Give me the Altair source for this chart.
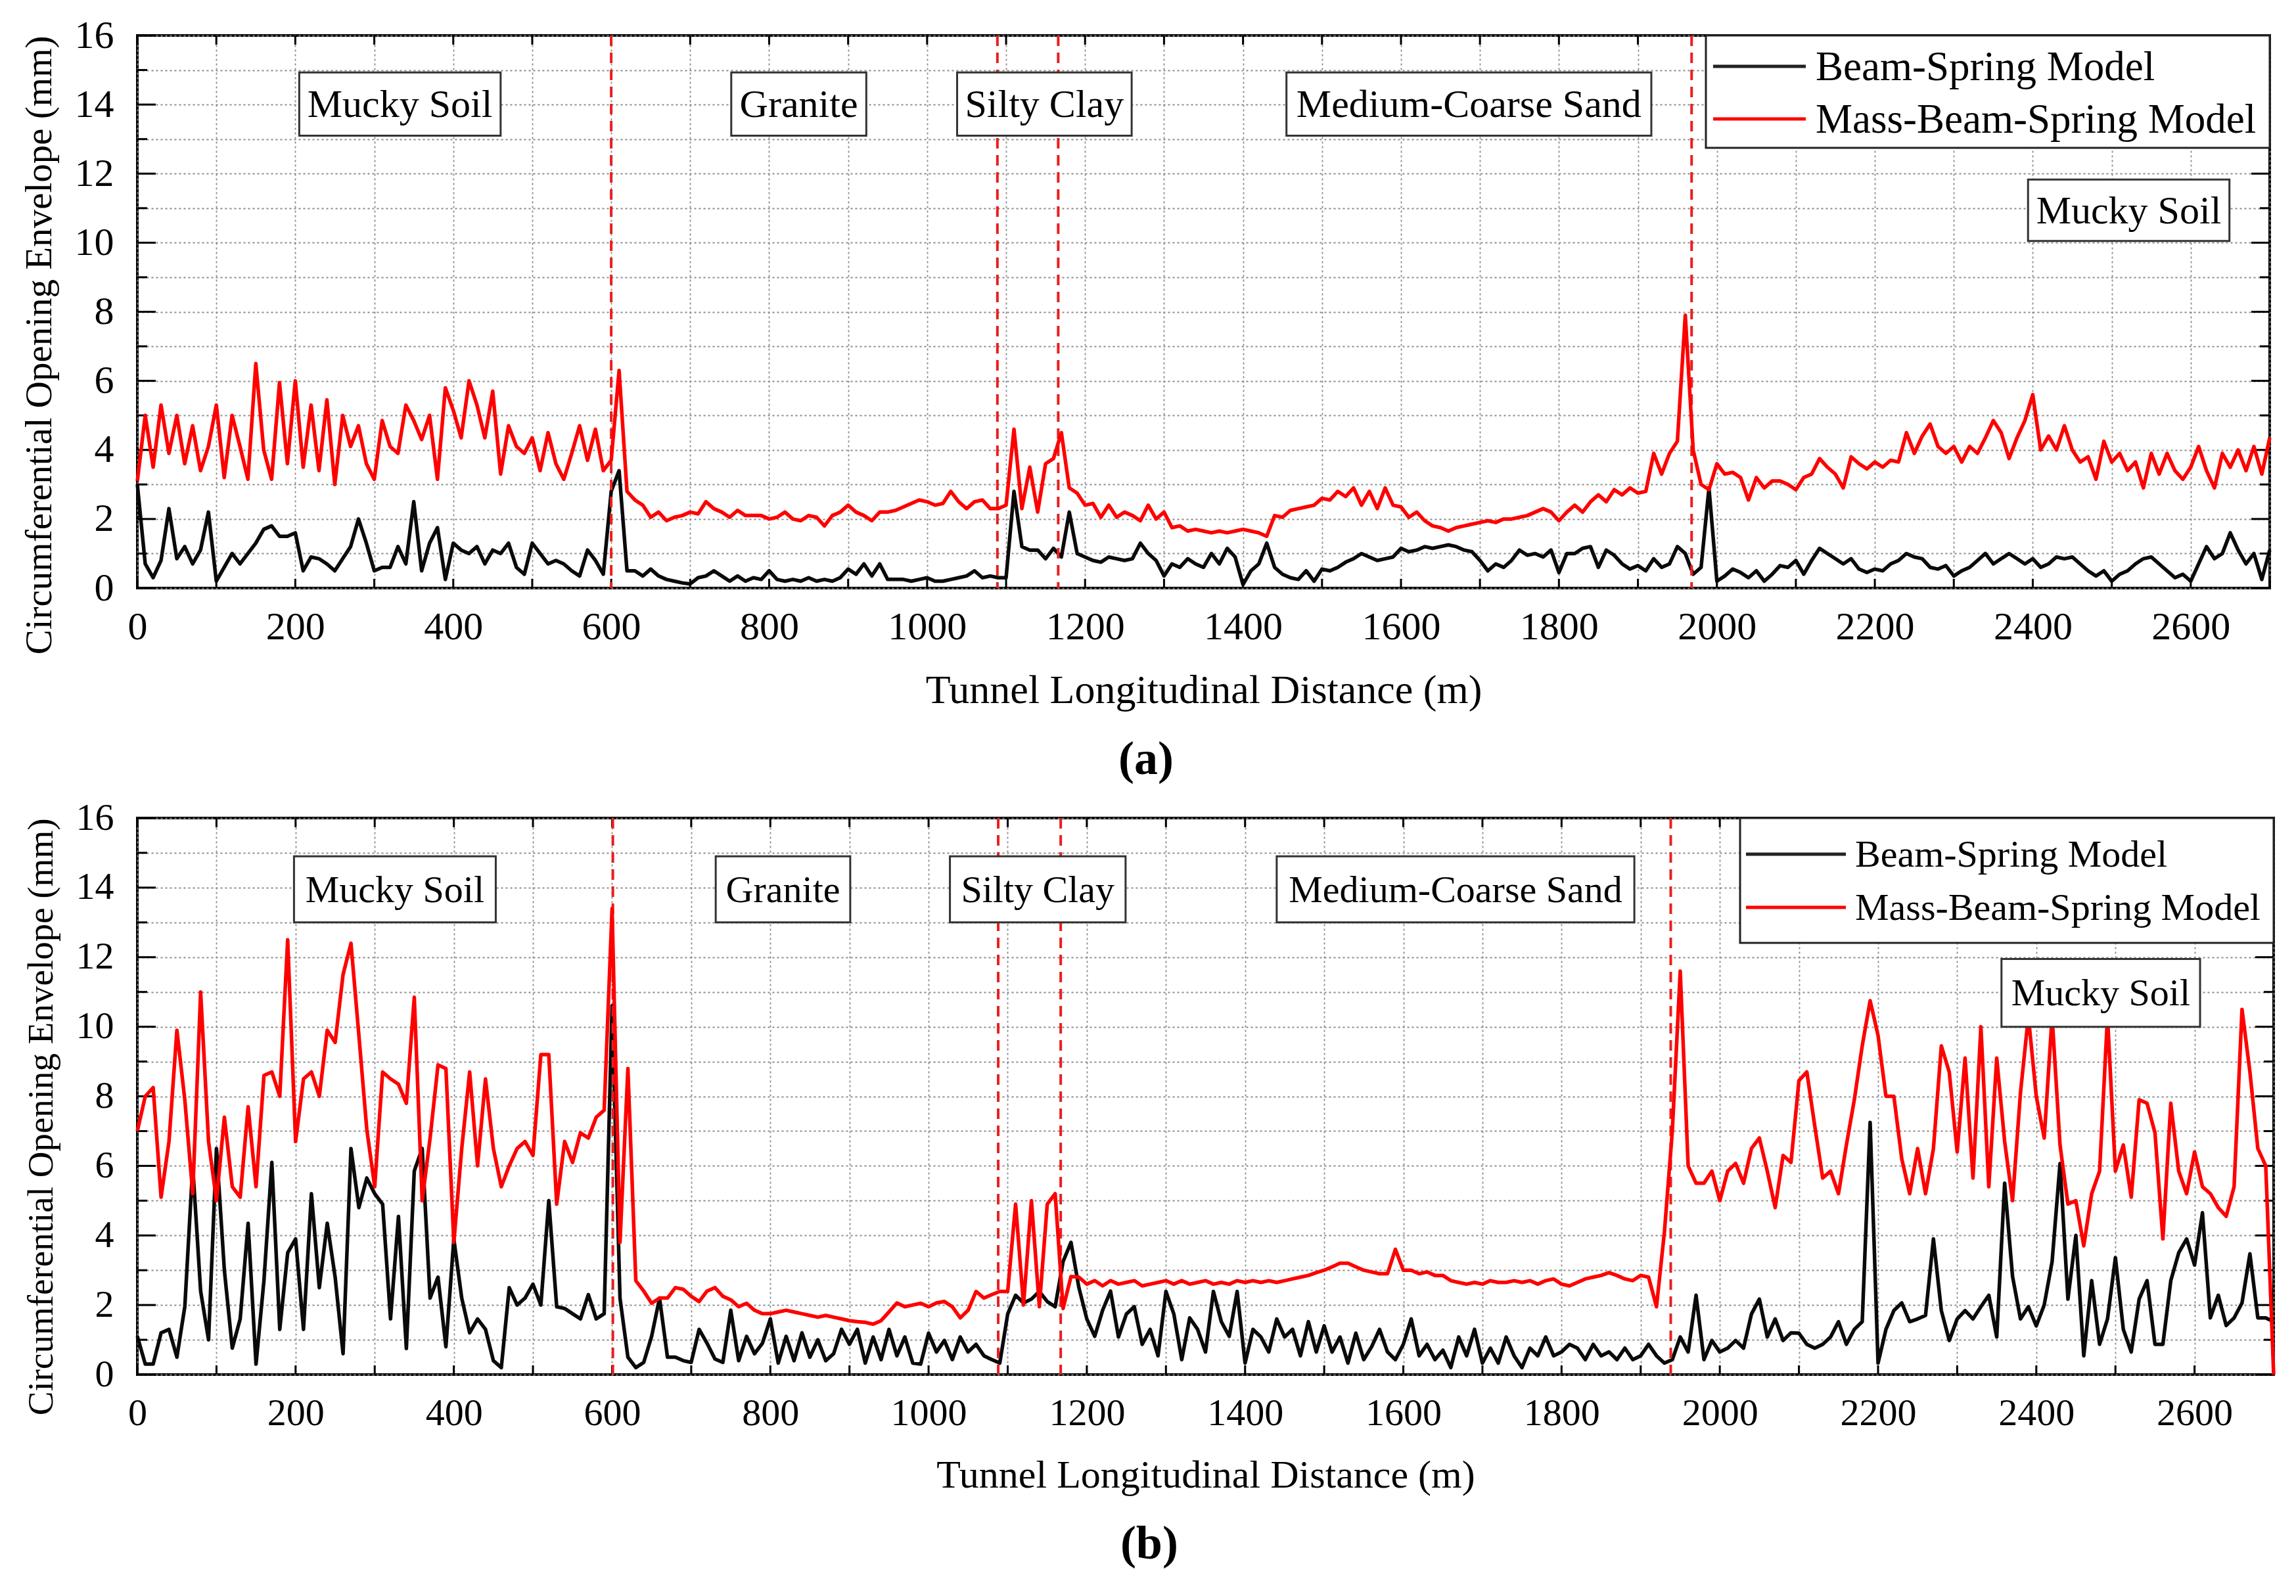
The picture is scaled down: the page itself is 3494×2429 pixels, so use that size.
import altair as alt
import pandas as pd

# ---------------- data (10 m spacing) ----------------
X = list(range(0, 2701, 10))

A_BEAM = [
    3.0, 0.7, 0.3, 0.8, 2.3, 0.85, 1.2, 0.7, 1.1, 2.2,
    0.2, 0.6, 1.0, 0.7, 1.0, 1.3, 1.7, 1.8, 1.5, 1.5,
    1.6, 0.5, 0.9, 0.85, 0.7, 0.5, 0.85, 1.2, 2.0, 1.3,
    0.5, 0.6, 0.6, 1.2, 0.7, 2.5, 0.5, 1.3, 1.75, 0.25,
    1.3, 1.1, 1.0, 1.2, 0.7, 1.1, 1.0, 1.3, 0.6, 0.4,
    1.3, 1.0, 0.7, 0.8, 0.7, 0.5, 0.35, 1.1, 0.8, 0.4,
    2.8, 3.4, 0.5, 0.5, 0.35, 0.55, 0.35, 0.25, 0.2, 0.15,
    0.12, 0.3, 0.35, 0.5, 0.35, 0.2, 0.35, 0.2, 0.3, 0.25,
    0.5, 0.25, 0.2, 0.25, 0.2, 0.3, 0.2, 0.25, 0.2, 0.3,
    0.55, 0.4, 0.7, 0.35, 0.7, 0.25, 0.25, 0.25, 0.2, 0.25,
    0.3, 0.2, 0.2, 0.25, 0.3, 0.35, 0.5, 0.3, 0.35, 0.3,
    0.3, 2.8, 1.2, 1.1, 1.1, 0.85, 1.15, 0.9, 2.2, 1.0,
    0.9, 0.8, 0.75, 0.9, 0.85, 0.8, 0.85, 1.3, 1.0, 0.8,
    0.35, 0.7, 0.6, 0.85, 0.7, 0.6, 1.0, 0.7, 1.15, 0.9,
    0.1, 0.5, 0.7, 1.3, 0.6, 0.4, 0.3, 0.25, 0.5, 0.2,
    0.55, 0.5, 0.6, 0.75, 0.85, 1.0, 0.9, 0.8, 0.85, 0.9,
    1.15, 1.05, 1.1, 1.2, 1.15, 1.2, 1.25, 1.2, 1.1, 1.05,
    0.8, 0.5, 0.7, 0.6, 0.8, 1.1, 0.95, 1.0, 0.9, 1.1,
    0.45, 1.0, 1.0, 1.15, 1.2, 0.6, 1.1, 0.95, 0.7, 0.55,
    0.65, 0.5, 0.85, 0.6, 0.7, 1.2, 1.0, 0.4, 0.6, 2.9,
    0.2, 0.35, 0.55, 0.45, 0.3, 0.5, 0.2, 0.4, 0.65, 0.6,
    0.8, 0.4, 0.8, 1.15, 1.0, 0.85, 0.7, 0.85, 0.55, 0.45,
    0.55, 0.5, 0.7, 0.8, 1.0, 0.9, 0.85, 0.6, 0.55, 0.65,
    0.35, 0.5, 0.6, 0.8, 1.0, 0.7, 0.85, 1.0, 0.85, 0.7,
    0.85, 0.6, 0.7, 0.9, 0.85, 0.9, 0.7, 0.5, 0.35, 0.5,
    0.2, 0.4, 0.5, 0.7, 0.85, 0.9, 0.7, 0.5, 0.3, 0.4,
    0.2, 0.7, 1.2, 0.85, 1.0, 1.6, 1.1, 0.7, 1.0, 0.25,
    1.1,
]

A_MASS = [
    3.1, 5.0, 3.5, 5.3, 3.9, 5.0, 3.6, 4.7, 3.4, 4.1,
    5.3, 3.2, 5.0, 4.1, 3.15, 6.5, 4.0, 3.15, 5.95, 3.6,
    6.0, 3.5, 5.3, 3.4, 5.45, 3.0, 5.0, 4.1, 4.7, 3.6,
    3.15, 4.85, 4.1, 3.9, 5.3, 4.85, 4.3, 5.0, 3.15, 5.8,
    5.15, 4.35, 6.0, 5.3, 4.35, 5.7, 3.3, 4.7, 4.1, 3.9,
    4.35, 3.4, 4.5, 3.6, 3.15, 3.9, 4.7, 3.7, 4.6, 3.4,
    3.7, 6.3, 2.8, 2.55, 2.4, 2.05, 2.2, 1.95, 2.05, 2.1,
    2.2, 2.15, 2.5, 2.3, 2.2, 2.05, 2.25, 2.1, 2.1, 2.1,
    2.0, 2.05, 2.2, 2.0, 1.95, 2.1, 2.05, 1.8, 2.1, 2.2,
    2.4, 2.2, 2.1, 1.95, 2.2, 2.2, 2.25, 2.35, 2.45, 2.55,
    2.5, 2.4, 2.45, 2.8, 2.5, 2.3, 2.5, 2.55, 2.3, 2.3,
    2.4, 4.6, 2.3, 3.5, 2.2, 3.6, 3.75, 4.5, 2.9, 2.75,
    2.4, 2.45, 2.05, 2.4, 2.05, 2.2, 2.1, 1.95, 2.4, 2.0,
    2.2, 1.75, 1.8, 1.65, 1.7, 1.65, 1.6, 1.65, 1.6, 1.65,
    1.7, 1.65, 1.6, 1.5, 2.1, 2.05, 2.25, 2.3, 2.35, 2.4,
    2.6, 2.55, 2.8, 2.65, 2.9, 2.4, 2.8, 2.3, 2.9, 2.4,
    2.35, 2.05, 2.2, 1.95, 1.8, 1.75, 1.65, 1.75, 1.8, 1.85,
    1.9, 1.95, 1.9, 2.0, 2.0, 2.05, 2.1, 2.2, 2.3, 2.2,
    1.95, 2.2, 2.4, 2.2, 2.5, 2.7, 2.5, 2.85, 2.7, 2.9,
    2.75, 2.8, 3.9, 3.3, 3.9, 4.25, 7.9, 4.0, 3.0, 2.85,
    3.6, 3.3, 3.35, 3.2, 2.55, 3.2, 2.9, 3.1, 3.1, 3.0,
    2.85, 3.2, 3.3, 3.75, 3.5, 3.3, 2.9, 3.8, 3.6, 3.45,
    3.65, 3.5, 3.7, 3.65, 4.5, 3.9, 4.4, 4.75, 4.1, 3.9,
    4.1, 3.65, 4.1, 3.9, 4.35, 4.85, 4.5, 3.75, 4.35, 4.85,
    5.6, 4.0, 4.4, 4.0, 4.7, 4.0, 3.65, 3.8, 3.15, 4.25,
    3.65, 3.9, 3.4, 3.65, 2.9, 3.9, 3.3, 3.9, 3.4, 3.15,
    3.5, 4.1, 3.4, 2.9, 3.9, 3.5, 4.0, 3.4, 4.1, 3.3,
    4.35,
]

B_BEAM = [
    1.1, 0.3, 0.3, 1.2, 1.3, 0.5, 1.95, 6.0, 2.4, 1.0,
    6.5, 3.0, 0.76, 1.6, 4.35, 0.3, 2.7, 6.1, 1.3, 3.5,
    3.9, 1.3, 5.2, 2.5, 4.35, 2.8, 0.6, 6.5, 4.8, 5.65,
    5.2, 4.9, 1.6, 4.55, 0.75, 5.85, 6.5, 2.2, 2.8, 0.8,
    3.9, 2.2, 1.2, 1.6, 1.3, 0.4, 0.2, 2.5, 2.0, 2.2,
    2.6, 2.0, 5.0, 1.95, 1.9, 1.75, 1.6, 2.3, 1.6, 1.75,
    10.6, 2.2, 0.5, 0.2, 0.35, 1.1, 2.2, 0.5, 0.5, 0.4,
    0.35, 1.3, 0.9, 0.45, 0.35, 1.85, 0.4, 1.1, 0.6, 0.9,
    1.6, 0.33, 1.1, 0.4, 1.2, 0.5, 1.0, 0.4, 0.6, 1.3,
    0.87, 1.3, 0.33, 1.08, 0.43, 1.3, 0.54, 1.08, 0.33, 0.3,
    1.19, 0.65, 0.98, 0.43, 1.08, 0.65, 0.87, 0.54, 0.43, 0.33,
    1.74, 2.28, 2.06, 2.17, 2.39, 2.1, 1.95, 3.25, 3.8, 2.5,
    1.6, 1.1, 1.85, 2.4, 1.08, 1.74, 1.95, 0.87, 1.3, 0.54,
    2.39, 1.74, 0.43, 1.63, 1.3, 0.65, 2.39, 1.52, 1.1, 2.39,
    0.33, 1.3, 1.08, 0.65, 1.6, 1.08, 1.3, 0.54, 1.52, 0.65,
    1.4, 0.65, 1.08, 0.33, 1.19, 0.43, 0.8, 1.3, 0.65, 0.43,
    0.87, 1.6, 0.54, 0.87, 0.43, 0.7, 0.2, 1.08, 0.54, 1.3,
    0.33, 0.76, 0.33, 1.08, 0.54, 0.2, 0.76, 0.54, 1.08, 0.54,
    0.65, 0.87, 0.76, 0.43, 0.87, 0.54, 0.65, 0.43, 0.76, 0.43,
    0.54, 0.87, 0.54, 0.33, 0.43, 1.08, 0.65, 2.28, 0.43, 0.98,
    0.65, 0.76, 0.98, 0.76, 1.74, 2.17, 1.08, 1.6, 0.98, 1.2,
    1.19, 0.87, 0.76, 0.87, 1.08, 1.52, 0.87, 1.3, 1.52, 7.25,
    0.33, 1.3, 1.84, 2.06, 1.52, 1.6, 1.7, 3.9, 1.84, 0.98,
    1.6, 1.84, 1.6, 1.95, 2.28, 1.08, 5.5, 2.82, 1.6, 1.95,
    1.4, 2.0, 3.25, 6.07, 2.17, 4.0, 0.54, 2.7, 0.87, 1.6,
    3.36, 1.3, 0.65, 2.17, 2.7, 0.87, 0.87, 2.7, 3.5, 3.9,
    3.15, 4.65, 1.63, 2.28, 1.41, 1.63, 2.06, 3.47, 1.63, 1.63,
    1.52,
]

B_MASS = [
    7.0, 8.0, 8.25, 5.1, 6.7, 9.9, 7.9, 5.2, 11.0, 6.7,
    5.0, 7.4, 5.4, 5.1, 7.7, 5.4, 8.6, 8.7, 8.0, 12.5,
    6.7, 8.5, 8.7, 8.0, 9.9, 9.55, 11.5, 12.4, 9.75, 7.05,
    5.4, 8.7, 8.5, 8.35, 7.8, 10.85, 5.0, 6.8, 8.9, 8.8,
    3.8, 6.5, 8.7, 6.0, 8.5, 6.5, 5.4, 6.0, 6.5, 6.7,
    6.3, 9.2, 9.2, 4.9, 6.7, 6.1, 6.95, 6.8, 7.4, 7.6,
    13.4, 3.8, 8.8, 2.7, 2.4, 2.05, 2.2, 2.2, 2.5, 2.45,
    2.25, 2.1, 2.4, 2.5, 2.25, 2.15, 1.95, 2.05, 1.85, 1.75,
    1.75, 1.8, 1.85, 1.8, 1.75, 1.7, 1.65, 1.7, 1.65, 1.6,
    1.55, 1.52, 1.5, 1.45, 1.55, 1.8, 2.06, 1.95, 2.0, 2.05,
    1.95, 2.06, 2.1, 1.95, 1.63, 1.85, 2.39, 2.2, 2.3, 2.39,
    2.39, 4.9, 2.0, 5.0, 1.95, 4.9, 5.2, 1.9, 2.82, 2.8,
    2.6, 2.7, 2.55, 2.7, 2.6, 2.65, 2.7, 2.55, 2.6, 2.65,
    2.7, 2.6, 2.7, 2.6, 2.65, 2.7, 2.6, 2.65, 2.6, 2.7,
    2.65, 2.7, 2.65, 2.7, 2.65, 2.7, 2.75, 2.8, 2.85, 2.93,
    3.0, 3.1, 3.2, 3.2, 3.1, 3.0, 2.95, 2.9, 2.9, 3.6,
    3.0, 3.0, 2.9, 2.95, 2.85, 2.85, 2.7, 2.65, 2.6, 2.65,
    2.6, 2.7, 2.65, 2.65, 2.7, 2.65, 2.7, 2.6, 2.7, 2.75,
    2.6, 2.55, 2.65, 2.75, 2.8, 2.85, 2.93, 2.85, 2.75, 2.7,
    2.85, 2.8, 1.95, 4.1, 7.0, 11.6, 6.0, 5.5, 5.5, 5.85,
    5.0, 5.85, 6.07, 5.5, 6.5, 6.8, 5.85, 4.8, 6.3, 6.1,
    8.45, 8.7, 7.15, 5.65, 5.85, 5.2, 6.6, 7.9, 9.45, 10.75,
    9.75, 8.0, 8.0, 6.2, 5.2, 6.5, 5.2, 6.5, 9.45, 8.7,
    6.4, 9.1, 5.65, 10.0, 5.4, 9.1, 6.7, 5.0, 8.1, 10.3,
    8.0, 6.8, 10.3, 6.6, 4.9, 5.0, 3.7, 5.2, 5.85, 10.3,
    5.85, 6.6, 5.1, 7.9, 7.8, 6.95, 3.9, 7.8, 5.85, 5.2,
    6.4, 5.4, 5.2, 4.8, 4.55, 5.4, 10.5, 8.7, 6.5, 6.0,
    0.0,
]

for _s in (A_BEAM, A_MASS, B_BEAM, B_MASS):
    assert len(_s) == len(X), len(_s)

SERIES = ["Beam-Spring Model", "Mass-Beam-Spring Model"]
COLORS = ["#000000", "#ff0000"]

XTICKS = list(range(0, 2701, 100))
YTICKS = list(range(0, 17))
YTICKS_MAJOR = list(range(0, 17, 2))
YTICKS_MINOR = list(range(1, 16, 2))

A_BOUNDARIES = [600, 1089, 1166, 1968]
B_BOUNDARIES = [601, 1088, 1167, 1938]

REGIONS = ["Mucky Soil", "Granite", "Silty Clay", "Medium-Coarse Sand", "Mucky Soil"]
A_BOX_X0 = [205, 752, 1038, 1455, 2394]
A_BOX_X1 = [460, 923, 1259, 1917, 2649]
A_BOX_Y0 = [13.1, 13.1, 13.1, 13.1, 10.05]
A_BOX_Y1 = [14.93, 14.93, 14.93, 14.93, 11.83]
B_BOX_X0 = [198, 731, 1027, 1440, 2356]
B_BOX_X1 = [453, 901, 1249, 1892, 2607]
B_BOX_Y0 = [13.0, 13.0, 13.0, 13.0, 10.0]
B_BOX_Y1 = [14.9, 14.9, 14.9, 14.9, 11.95]

FONT = "Liberation Serif"


def panel(beam, mass, bounds, bx0, bx1, by0, by1, W, H, tick_fs, title_fs,
          box_fs, leg, tag):
    XS = alt.Scale(domain=[0, 2700], nice=False, zero=False)
    YS = alt.Scale(domain=[0, 16], nice=False, zero=False)

    ax_x = alt.Axis(
        values=XTICKS, format="d",
        labelExpr="datum.value % 200 == 0 ? datum.label : ''",
        ticks=False, tickSize=0, domain=False,
        grid=True, gridColor="#8a8a8a", gridDash=[3, 4], gridWidth=1.8,
        labelFont=FONT, labelFontSize=tick_fs, labelColor="black",
        labelPadding=30, labelOverlap=False, labelFlush=False,
        title="Tunnel Longitudinal Distance (m)", titleFont=FONT,
        titleFontSize=title_fs, titleFontWeight="normal", titleColor="black",
        titlePadding=36,
    )
    ax_y = alt.Axis(
        values=YTICKS, format="d",
        labelExpr="datum.value % 2 == 0 ? datum.label : ''",
        ticks=False, tickSize=0, domain=False,
        grid=True, gridColor="#8a8a8a", gridDash=[3, 4], gridWidth=1.8,
        labelFont=FONT, labelFontSize=tick_fs, labelColor="black",
        labelPadding=36, labelOverlap=False, labelFlush=False,
        title="Circumferential Opening Envelope (mm)", titleFont=FONT,
        titleFontSize=title_fs - 5, titleFontWeight="normal",
        titleColor="black", titlePadding=24, titleAnchor="end",
    )

    def xq(field):
        return alt.X(field, scale=XS, axis=ax_x)

    def yq(field):
        return alt.Y(field, scale=YS, axis=ax_y)

    df_beam = pd.DataFrame({"x": X, "v": beam})
    df_mass = pd.DataFrame({"x": X, "v": mass})

    beam_line = alt.Chart(df_beam).mark_line(
        color="#0a0a0a", strokeWidth=5.5, strokeJoin="round"
    ).encode(x=xq("x:Q"), y=yq("v:Q"))
    mass_line = alt.Chart(df_mass).mark_line(
        color=COLORS[1], strokeWidth=5.5, strokeJoin="round"
    ).encode(x=xq("x:Q"), y=yq("v:Q"))

    dfxt = pd.DataFrame({"x": XTICKS})
    xt_bottom = alt.Chart(dfxt).mark_rule(color="black", strokeWidth=3).encode(
        x=xq("x:Q"), y=alt.value(H), y2=alt.value(H - 14))
    xt_top = alt.Chart(dfxt).mark_rule(color="black", strokeWidth=3).encode(
        x=xq("x:Q"), y=alt.value(0), y2=alt.value(14))
    dfy1 = pd.DataFrame({"v": YTICKS_MAJOR})
    dfy2 = pd.DataFrame({"v": YTICKS_MINOR})
    yt = []
    for d, ln in ((dfy1, 28), (dfy2, 15)):
        yt.append(alt.Chart(d).mark_rule(color="black", strokeWidth=3).encode(
            y=yq("v:Q"), x=alt.value(0), x2=alt.value(ln)))
        yt.append(alt.Chart(d).mark_rule(color="black", strokeWidth=3).encode(
            y=yq("v:Q"), x=alt.value(W), x2=alt.value(W - ln)))

    dashed = alt.Chart(pd.DataFrame({"x": bounds})).mark_rule(
        color="#e8201e", strokeWidth=4, strokeDash=[16, 10]
    ).encode(x=xq("x:Q"))

    df_reg = pd.DataFrame({
        "label": REGIONS, "x": bx0, "x1": bx1, "v": by0, "v1": by1,
        "xc": [(a + b) / 2 for a, b in zip(bx0, bx1)],
        "vc": [(a + b) / 2 for a, b in zip(by0, by1)],
    })
    reg_box = alt.Chart(df_reg).mark_rect(
        fill="white", stroke="#333333", strokeWidth=3
    ).encode(x=xq("x:Q"), x2="x1:Q", y=yq("v:Q"), y2="v1:Q")
    reg_txt = alt.Chart(df_reg).mark_text(
        font=FONT, fontSize=box_fs, color="black", baseline="middle", dy=2
    ).encode(x=xq("xc:Q"), y=yq("vc:Q"), text="label:N")

    one = pd.DataFrame({"k": [0]})
    lg_box = alt.Chart(one).mark_rect(
        fill="white", stroke="#222222", strokeWidth=3
    ).encode(x=alt.value(leg["x0"]), x2=alt.value(W),
             y=alt.value(0), y2=alt.value(leg["h"]))
    lg_parts = [lg_box]
    for name, col, ry in zip(SERIES, COLORS, leg["rows"]):
        lg_parts.append(alt.Chart(one).mark_rule(
            color=col if col != "#000000" else "#222222", strokeWidth=5
        ).encode(x=alt.value(leg["l0"]), x2=alt.value(leg["l1"]), y=alt.value(ry)))
        lg_parts.append(alt.Chart(one).mark_text(
            font=FONT, fontSize=leg["fs"], color="black", align="left",
            baseline="middle", dy=2
        ).encode(x=alt.value(leg["tx"]), y=alt.value(ry), text=alt.value(name)))

    layers = [beam_line, xt_bottom, xt_top] + yt + [dashed, mass_line,
                                                    reg_box, reg_txt] + lg_parts
    return alt.layer(*layers).properties(
        width=W, height=H,
        title=alt.TitleParams(tag, orient="bottom", font=FONT, fontSize=72,
                              fontWeight="bold", color="black", offset=40,
                              anchor="middle", frame="bounds"),
    )


LEG_A = {"x0": 2387, "h": 171, "rows": [47, 127], "l0": 2398, "l1": 2539,
         "tx": 2554, "fs": 63}
LEG_B = {"x0": 2439, "h": 190, "rows": [55, 136], "l0": 2448, "l1": 2600,
         "tx": 2614, "fs": 58}

pa = panel(A_BEAM, A_MASS, A_BOUNDARIES, A_BOX_X0, A_BOX_X1, A_BOX_Y0, A_BOX_Y1,
           3245, 841, 60, 62, 60, LEG_A, "(a)")
pb = panel(B_BEAM, B_MASS, B_BOUNDARIES, B_BOX_X0, B_BOX_X1, B_BOX_Y0, B_BOX_Y1,
           3251, 847, 58, 60, 58, LEG_B, "(b)")

chart = alt.vconcat(pa, pb, spacing=20).properties(
    padding={"top": 14, "left": 20, "right": 10, "bottom": 10},
    background="white",
).configure_view(stroke="black", strokeWidth=4)

chart.save("out.html", embed_options={"renderer": "svg", "actions": False})
